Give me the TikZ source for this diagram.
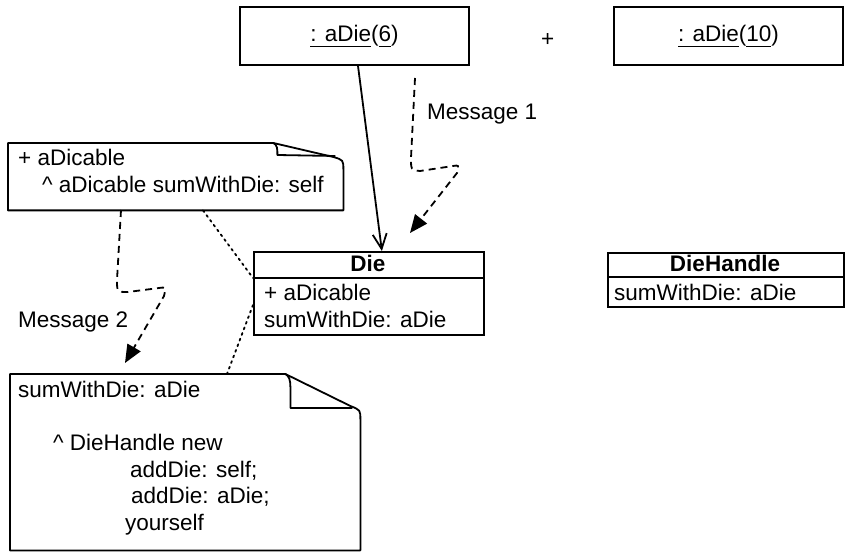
\documentclass[tikz,border=0pt]{standalone}
\usepackage{fontspec}
\setmainfont{Liberation Sans}
\usetikzlibrary{arrows.meta}
\newcommand{\undl}[1]{\setbox0\hbox{#1}\rlap{\rule[-6pt]{\wd0}{1.3pt}}\box0}
\begin{document}
\begin{tikzpicture}[x=1pt,y=-1pt,
    every node/.style={font=\fontsize{22.5}{26.5}\selectfont, inner sep=0pt},
    objbox/.style={draw, line width=1.8pt, minimum width=229pt, minimum height=58pt},
    classbox/.style={draw, line width=1.8pt, anchor=north west},
    clsname/.style={font=\fontsize{22.5}{26.5}\selectfont\bfseries, anchor=base},
    txt/.style={anchor=base west},
    notetxt/.style={anchor=north west, align=left},
    notearea/.style={anchor=north west},
    notepath/.style={line width=1.8pt, line join=round},
    msg/.style={line width=1.8pt, dash pattern=on 7pt off 5pt,
      -{Triangle[length=18pt,width=15pt]}},
    link/.style={line width=1.8pt, dash pattern=on 2pt off 4pt, line cap=round}]
  \useasboundingbox (0,0) rectangle (848,553);

  % objects
  \node[objbox] (aDieSix) at (354.5,36) {\undl{: aDie}(\undl{6})};
  \node[txt] (plus) at (541,47) {+};
  \node[objbox] (aDieTen) at (728.5,36) {\undl{: aDie}(\undl{10})};

  % classes
  \node[classbox, minimum width=230pt, minimum height=83pt] (die) at (253,251) {};
  \draw[line width=1.8pt] ([yshift=-27pt]die.north west) -- ([yshift=-27pt]die.north east);
  \node[clsname] (dieName) at (368,272) {Die};
  \node[txt] (dieOps) at (264,300) {+ aDicable};
  \node[txt] (dieSum) at (264,327) {sumWithDie: aDie};

  \node[classbox, minimum width=236pt, minimum height=54pt] (dieHandle) at (607,252) {};
  \draw[line width=1.8pt] ([yshift=-25pt]dieHandle.north west) -- ([yshift=-25pt]dieHandle.north east);
  \node[clsname] (dieHandleName) at (725,271) {DieHandle};
  \node[txt] (dieHandleSum) at (614,300) {sumWithDie: aDie};

  % notes
  \node[notearea, minimum width=335pt, minimum height=67pt] (noteOne) at (8,143) {};
  \draw[notepath] (noteOne.north west) -- ([xshift=-70pt]noteOne.north east) coordinate (foldOne)
    -- ([xshift=-10pt,yshift=-14pt]noteOne.north east)
    .. controls ([yshift=-17pt]noteOne.north east) .. ([yshift=-27pt]noteOne.north east)
    -- (noteOne.south east) -- (noteOne.south west) -- cycle;
  \draw[notepath] (foldOne) .. controls +(4,2) and +(0,-6) .. ([xshift=-66pt,yshift=-12pt]noteOne.north east)
    -- ([xshift=-8pt,yshift=-13pt]noteOne.north east);
  \node[notetxt] (noteOneText) at (18,149) {+ aDicable\\\hspace*{24pt}\^{} aDicable sumWithDie: self};

  \node[notearea, minimum width=350pt, minimum height=176pt] (noteTwo) at (10,374) {};
  \draw[notepath] (noteTwo.north west) -- ([xshift=-75pt]noteTwo.north east) coordinate (foldTwo)
    -- ([xshift=-10pt,yshift=-32pt]noteTwo.north east)
    .. controls ([yshift=-36pt]noteTwo.north east) .. ([yshift=-46pt]noteTwo.north east)
    -- (noteTwo.south east) -- (noteTwo.south west) -- cycle;
  \draw[notepath] (foldTwo) .. controls +(4,2) and +(0,-6) .. ([xshift=-70pt,yshift=-13pt]noteTwo.north east)
    -- ([xshift=-70pt,yshift=-34pt]noteTwo.north east)
    -- ([xshift=-8pt,yshift=-34pt]noteTwo.north east);
  \node[notetxt] (noteTwoText) at (18,381) {sumWithDie: aDie\\[26.5pt]
    \hspace*{35pt}\^{} DieHandle new\\
    \hspace*{112pt}addDie: self;\\
    \hspace*{113pt}addDie: aDie;\\
    \hspace*{107pt}yourself};

  % messages
  \node[txt] (msgOneLabel) at (427,120) {Message 1};
  \node[txt] (msgTwoLabel) at (18,327) {Message 2};
  \coordinate (msgOneStart) at (415,78);
  \coordinate (msgOneEnd) at (410,233);
  \coordinate (msgTwoStart) at (121,210);
  \coordinate (msgTwoEnd) at (125,363);

  \begin{scope}
    \draw[line width=1.8pt, -{Straight Barb[length=15pt,width=14pt]}]
      ([xshift=3.5pt]aDieSix.south) -- ([xshift=13pt]die.north);
    \draw[msg] (msgOneStart) -- (411,158) .. controls (411,170) .. (420,171)
      -- (453,166) .. controls (459,165) .. (457,173) -- (msgOneEnd);
    \draw[msg] (msgTwoStart) -- (117,280) .. controls (117,292) .. (128,292)
      -- (159,288) .. controls (166,287) .. (164,296) -- (msgTwoEnd);
    \draw[link] ([xshift=195pt]noteOne.south west) -- ([yshift=-27pt]die.north west);
    \draw[link] ([yshift=-54pt]die.north west) -- ([xshift=217pt]noteTwo.north west);
  \end{scope}
\end{tikzpicture}
\end{document}
